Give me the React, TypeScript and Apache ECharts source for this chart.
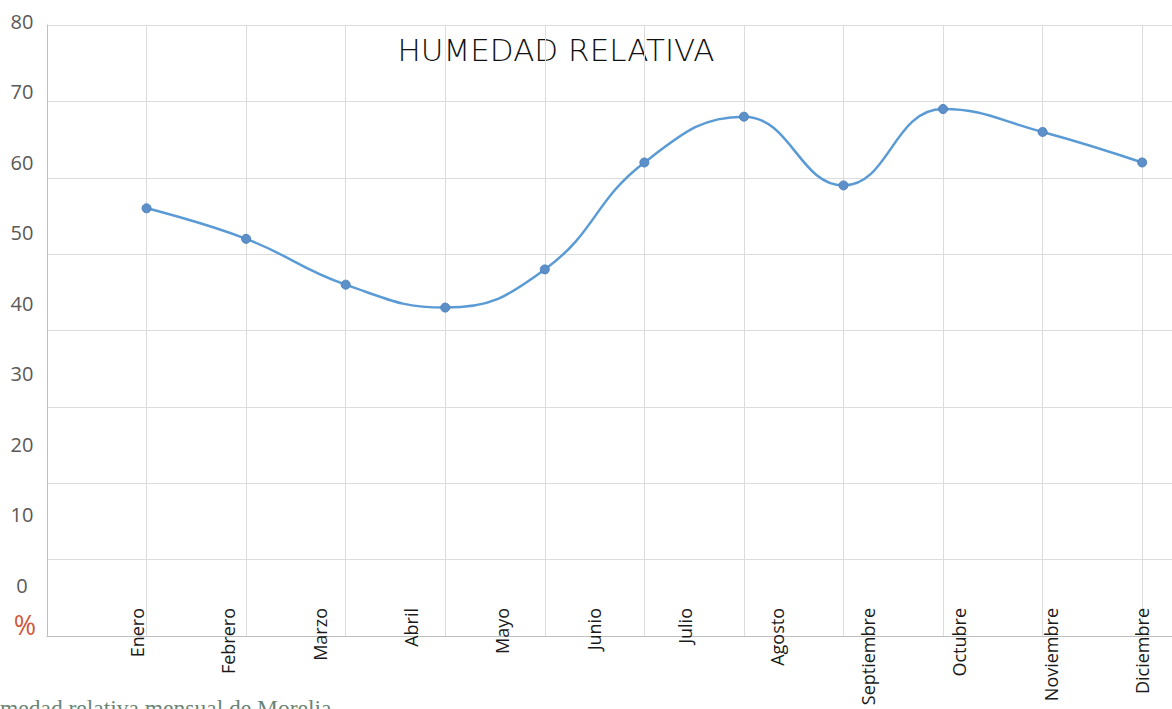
import React, { useEffect, useRef } from "react";
import * as echarts from "echarts";

const months = [
  "Enero", "Febrero", "Marzo", "Abril", "Mayo", "Junio",
  "Julio", "Agosto", "Septiembre", "Octubre", "Noviembre", "Diciembre",
];
// 11 plotted points, at the vertical grid lines 1..11
const humidity = [56, 52, 46, 43, 48, 62, 68, 59, 69, 66, 62];
const yMin = 0;
const yMax = 80;
const yStep = 10;

export default function App() {
  const ref = useRef<HTMLDivElement>(null);
  useEffect(() => {
    if (!ref.current) return;
    const chart = echarts.init(ref.current, null, { renderer: "svg" });
    const points = humidity.map((v, i) => [i + 1, v]);
    chart.setOption({
      animation: false,
      backgroundColor: "#ffffff",
      grid: [
        { left: 47, right: -10, top: 25, bottom: 73, outerBoundsMode: "none" },
        { left: 137, right: 30, top: 21, bottom: 123.5, outerBoundsMode: "none" },
      ],
      xAxis: [
        {
          gridIndex: 0,
          type: "value",
          min: 0,
          max: 11.4,
          interval: 1,
          axisLine: { show: true, lineStyle: { color: "#bfbfbf", width: 1 } },
          axisTick: { show: false },
          axisLabel: { show: false },
          splitLine: { show: true, lineStyle: { color: "#dcdcdc", width: 1 } },
        },
        {
          gridIndex: 1,
          type: "category",
          data: months,
          boundaryGap: false,
          offset: 22.5,
          axisLine: { show: false },
          axisTick: { show: false },
          splitLine: { show: false },
          axisLabel: {
            rotate: 90,
            margin: 0,
            interval: 0,
            fontFamily: "Open Sans",
            fontSize: 18,
            color: "#1a1a1a",
          },
        },
      ],
      yAxis: [
        {
          gridIndex: 0,
          type: "value",
          min: yMin,
          max: yMax,
          interval: yStep,
          axisLine: { show: true, lineStyle: { color: "#bfbfbf", width: 1 } },
          axisTick: { show: false },
          axisLabel: { show: false },
          splitLine: { show: true, lineStyle: { color: "#dcdcdc", width: 1 } },
        },
        {
          gridIndex: 1,
          type: "value",
          min: yMin,
          max: yMax,
          interval: yStep,
          offset: 90,
          axisLine: { show: false },
          axisTick: { show: false },
          splitLine: { show: false },
          axisLabel: {
            margin: 25,
            align: "center",
            fontFamily: "Open Sans",
            fontSize: 20,
            color: "#595959",
          },
        },
      ],
      series: [
        {
          type: "line",
          xAxisIndex: 0,
          yAxisIndex: 0,
          data: points,
          smooth: 0.45,
          symbol: "circle",
          symbolSize: 9,
          lineStyle: { color: "#5B9BD5", width: 2.5 },
          itemStyle: { color: "#5d8fc8", borderColor: "#4f82bd", borderWidth: 1 },
        },
      ],
      graphic: [
        {
          type: "text",
          x: 556,
          y: 50,
          style: {
            text: "HUMEDAD RELATIVA",
            fontFamily: "DejaVu Sans",
            fontWeight: 200,
            fontSize: 31,
            fill: "#111111",
            textAlign: "center",
            textVerticalAlign: "middle",
          },
        },
        {
          type: "text",
          x: 25,
          y: 624,
          style: {
            text: "%",
            fontFamily: "Open Sans",
            fontSize: 27,
            fill: "#d0583b",
            textAlign: "center",
            textVerticalAlign: "middle",
          },
        },
        {
          type: "text",
          x: 0,
          y: 696,
          style: {
            text: "medad relativa mensual de Morelia",
            fontFamily: "Liberation Serif",
            fontSize: 23.5,
            fill: "#6a8576",
            textAlign: "left",
            textVerticalAlign: "top",
          },
        },
      ],
    });
    return () => chart.dispose();
  }, []);
  return (
    <div
      ref={ref}
      style={{ position: "absolute", left: 0, top: 0, width: 1172, height: 709 }}
    />
  );
}
